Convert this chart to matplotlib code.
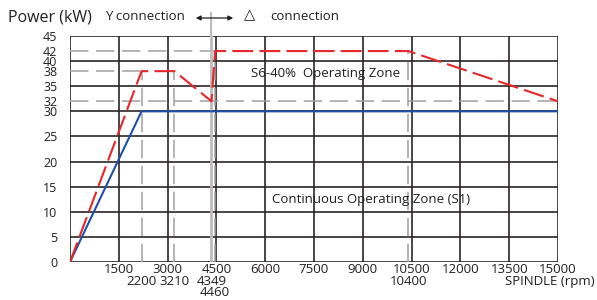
import matplotlib
matplotlib.use("Agg")
import matplotlib.pyplot as plt

plt.rcParams['font.family'] = ['Open Sans', 'DejaVu Sans']

# Data
s1_rpm = [0, 2200, 15000]
s1_kw = [0, 30, 30]
s6_rpm = [0, 2200, 3210, 4349, 4460, 10400, 15000]
s6_kw = [0, 38, 38, 32, 42, 42, 32]
x_major = [1500, 3000, 4500, 6000, 7500, 9000, 10500, 12000, 13500, 15000]
x_extra_row2 = [2200, 3210, 4349, 10400]
x_extra_row3 = [4460]
y_labels = [0, 5, 10, 15, 20, 25, 30, 32, 35, 38, 40, 42, 45]
y_grid = [0, 5, 10, 15, 20, 25, 30, 35, 40, 45]

W, H = 597, 300
fig = plt.figure(figsize=(W/100, H/100), dpi=100)
ax = fig.add_axes([70/W, 1-262/H, (558-70)/W, (262-36)/H])
ax.set_xlim(0, 15000)
ax.set_ylim(0, 45)

txt_c = '#231f20'
fs = 9.5

grid_c = '#2b2626'
for y in y_grid:
    ax.axhline(y, color=grid_c, lw=1.2, zorder=1)
for x in [0] + x_major:
    ax.axvline(x, color=grid_c, lw=1.2, zorder=1)

gray = '#a0a0a0'
dash_kw = dict(color=gray, lw=1.1, dashes=(12, 5), zorder=2)
ax.plot([0, 4460], [42, 42], **dash_kw)
ax.plot([0, 2200], [38, 38], **dash_kw)
ax.plot([0, 15000], [32, 32], **dash_kw)
ax.plot([2200, 2200], [0, 38], **dash_kw)
ax.plot([3210, 3210], [0, 38], **dash_kw)
ax.plot([4460, 4460], [0, 42], **dash_kw)
ax.plot([10400, 10400], [0, 42], **dash_kw)
ax.plot([4349, 4349], [0, 45], color='#bcbcbc', lw=2.0, zorder=2)
# connection-change line extending above the plot
ax.plot([4349, 4349], [45, 49.5], color='#bcbcbc', lw=1.5, zorder=2, clip_on=False)

ax.plot(s1_rpm, s1_kw, color='#1f4fa8', lw=1.5, zorder=4)
ax.plot(s6_rpm, s6_kw, color='#e8262a', lw=1.5, dashes=(10, 3), zorder=4)

for s in ax.spines.values():
    s.set_visible(False)

ax.set_yticks(y_labels)
ax.set_yticklabels([str(v) for v in y_labels])
ax.set_xticks(x_major)
ax.set_xticklabels([str(v) for v in x_major])
ax.tick_params(axis='both', length=0, labelsize=fs, colors=txt_c)
ax.tick_params(axis='y', pad=9, labelsize=9)
ax.tick_params(axis='x', pad=1)

trans = ax.get_xaxis_transform()
for x in x_extra_row2:
    ax.text(x, 1-(282-36)/226, str(x), transform=trans, ha='center', va='center',
            fontsize=fs, color=txt_c)
for x in x_extra_row3:
    ax.text(x, 1-(293-36)/226, str(x), transform=trans, ha='center', va='center',
            fontsize=fs, color=txt_c)
fig.text(595/W, 1-282/H, 'SPINDLE (rpm)', ha='right', va='center', fontsize=fs, color=txt_c)

ax.text(7854, 37.5, 'S6-40%  Operating Zone', ha='center', va='center',
        fontsize=fs, color=txt_c)
ax.text(9240, 12.5, 'Continuous Operating Zone (S1)', ha='center', va='center',
        fontsize=fs, color=txt_c)

fig.text(8/W, 1-18/H, 'Power (kW)', ha='left', va='center', fontsize=11.5, color=txt_c)
fig.text(105/W, 1-16/H, 'Y connection', ha='left', va='center', fontsize=9.5, color=txt_c)
fig.text(244/W, 1-16/H, '△', ha='left', va='center', fontsize=10.5, color=txt_c)
fig.text(270/W, 1-16/H, 'connection', ha='left', va='center', fontsize=9.5, color=txt_c)
fig.add_artist(matplotlib.patches.FancyArrowPatch((193/W, 1-18/H), (236/W, 1-18/H),
               transform=fig.transFigure, arrowstyle='<|-|>', mutation_scale=7,
               color=txt_c, lw=0.9))

fig.savefig('out.png', dpi=100)
